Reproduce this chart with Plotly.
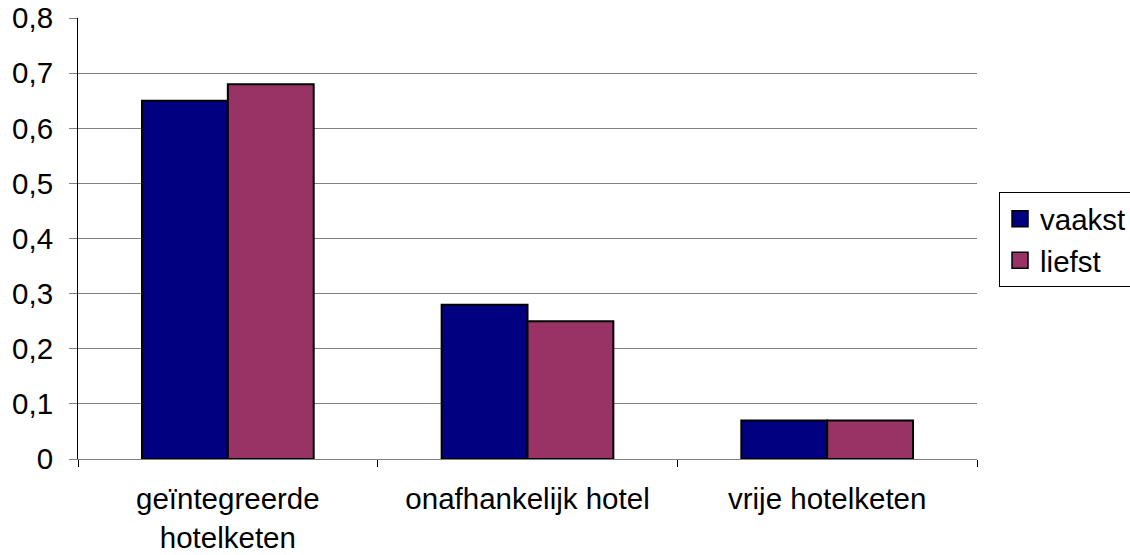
import plotly.graph_objects as go

categories = ["geïntegreerde<br>hotelketen", "onafhankelijk hotel", "vrije hotelketen"]
series_names = ["vaakst", "liefst"]
vaakst = [0.65, 0.28, 0.07]
liefst = [0.68, 0.25, 0.07]
colors = ["#000080", "#993366"]
y_ticks = [0, 0.1, 0.2, 0.3, 0.4, 0.5, 0.6, 0.7, 0.8]
y_ticktext = ["0", "0,1", "0,2", "0,3", "0,4", "0,5", "0,6", "0,7", "0,8"]

FONT = "Liberation Sans, Arial, sans-serif"
FS = 29.5

fig = go.Figure()
for name, vals, col in zip(series_names, [vaakst, liefst], colors):
    fig.add_trace(go.Bar(name=name, x=categories, y=vals, showlegend=False,
                         marker=dict(color=col, line=dict(color="black", width=2))))
# legend entries with larger square swatches
for name, col in zip(series_names, colors):
    fig.add_trace(go.Scatter(name=name, x=[None], y=[None], mode="markers",
                             marker=dict(symbol="square", size=18, color=col,
                                         line=dict(color="black", width=1.5))))

fig.update_layout(
    width=1130, height=555,
    margin=dict(l=78, r=153, t=18, b=96, autoexpand=False),
    paper_bgcolor="white", plot_bgcolor="white",
    barmode="group", bargap=0.427, bargroupgap=0,
    font=dict(family=FONT, size=FS, color="black"),
    legend=dict(x=1.0245, y=0.605, xanchor="left", yanchor="top",
                bordercolor="black", borderwidth=1, bgcolor="white",
                font=dict(family=FONT, size=FS, color="black"),
                itemsizing="trace", tracegroupgap=0),
    xaxis=dict(showline=True, linecolor="#808080", linewidth=1,
               ticks="outside", tickson="boundaries", ticklen=7, tickcolor="black",
               ticklabelstandoff=14,
               showgrid=False, zeroline=False, automargin=False,
               tickfont=dict(family=FONT, size=FS, color="black")),
    yaxis=dict(range=[0, 0.8], tickvals=y_ticks, ticktext=y_ticktext,
               showline=True, linecolor="black", linewidth=1,
               ticks="outside", ticklen=8, tickcolor="#808080",
               ticklabelstandoff=10,
               showgrid=True, gridcolor="#808080", gridwidth=1,
               zeroline=False, automargin=False,
               tickfont=dict(family=FONT, size=FS, color="black")),
)

fig.write_html("out.html", config={"displayModeBar": False},
               post_script="document.body.style.margin='0';")
